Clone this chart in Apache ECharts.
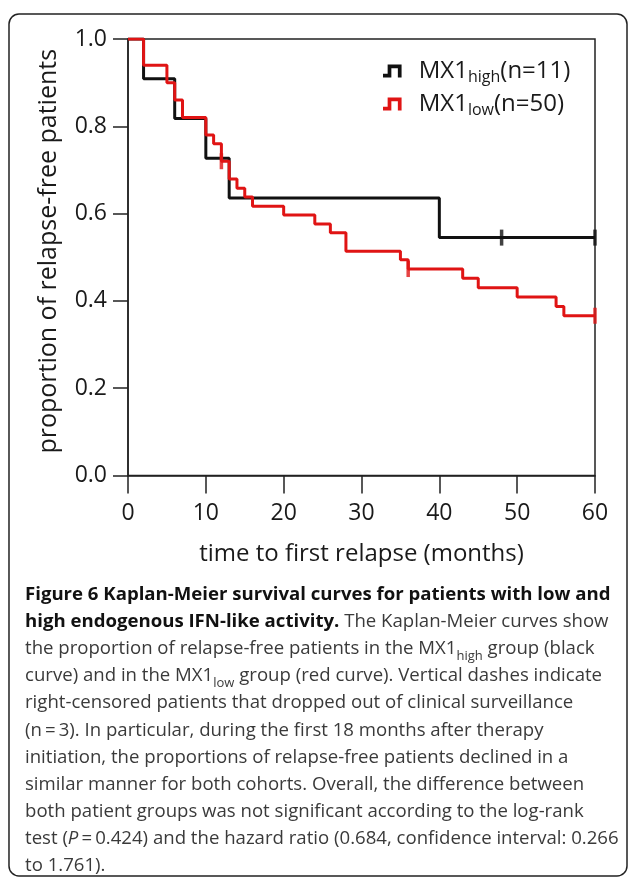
<!DOCTYPE html>
<html><head><meta charset="utf-8">
<script src="https://cdn.jsdelivr.net/npm/echarts@6/dist/echarts.min.js"></script>
<style>html,body{margin:0;padding:0;background:#fff}#c{width:629px;height:878px}</style>
</head><body><div id="c"></div>
<script>
// ---- data ----
const xTicks = [0, 10, 20, 30, 40, 50, 60];
const yTicks = [0.0, 0.2, 0.4, 0.6, 0.8, 1.0];

const highMonths = [0, 2, 6, 10, 13, 40, 60];
const highSurv   = [1.0, 0.909, 0.818, 0.727, 0.636, 0.545, 0.545];
const highCensorMonths = [48, 60];
const highCensorSurv   = [0.545, 0.545];

const lowMonths = [0, 2, 5, 6, 7, 10, 11, 12, 13, 14, 15, 16, 20, 24, 26, 28, 35, 36, 43, 45, 50, 55, 56, 60];
const lowSurv   = [1.0, 0.94, 0.90, 0.86, 0.82, 0.78, 0.76, 0.72, 0.679, 0.658, 0.638, 0.617, 0.597, 0.576, 0.556, 0.514, 0.494, 0.473, 0.452, 0.430, 0.409, 0.387, 0.366, 0.366];
const lowCensorMonths = [12, 36, 60];
const lowCensorSurv   = [0.72, 0.473, 0.366];

const seriesNames = ['MX1high', 'MX1low'];
const legendLabels = {MX1high: ['MX1', 'high', '(n=11)'], MX1low: ['MX1', 'low', '(n=50)']};

const captionLines = [
  [['bold', 'Figure 6 Kaplan-Meier survival curves for patients with low and']],
  [['bold', 'high endogenous IFN-like activity.'], ['reg', ' The Kaplan-Meier curves show']],
  [['reg', 'the proportion of relapse-free patients in the MX1'], ['sub', 'high'], ['reg', ' group (black']],
  [['reg', 'curve) and in the MX1'], ['sub', 'low'], ['reg', ' group (red curve). Vertical dashes indicate']],
  [['reg', 'right-censored patients that dropped out of clinical surveillance']],
  [['reg', '(n\u2009=\u20093). In particular, during the first 18 months after therapy']],
  [['reg', 'initiation, the proportions of relapse-free patients declined in a']],
  [['reg', 'similar manner for both cohorts. Overall, the difference between']],
  [['reg', 'both patient groups was not significant according to the log-rank']],
  [['reg', 'test ('], ['ital', 'P'], ['reg', '\u2009=\u20090.424) and the hazard ratio (0.684, confidence interval: 0.266']],
  [['reg', 'to 1.761).']]
];

// ---- build ----
const zip = (a, b) => a.map((v, i) => [v, b[i]]);
const FONT = '"Open Sans", "Noto Sans", sans-serif';
const BLACK = '#111111';
const RED = '#e01414';
const TXT = '#1a1a1a';
const iconPath = 'path://M0,14 L0,10 L5,10 L5,0 L20,0 L20,14 L16,14 L16,4 L9,4 L9,14 Z';

const esc = s => s.replace(/[{}|]/g, '');
const captionText = captionLines.map(line => line.map(([k, t]) => '{' + k + '|' + esc(t) + '}').join('')).join('\n');

const CAP = 18.6, CAPLH = 27.15;

const chart = echarts.init(document.getElementById('c'), null, {renderer: 'canvas'});
chart.setOption({
  animation: false,
  backgroundColor: '#fff',
  grid: {left: 128, right: 34, top: 39, bottom: 402.5, show: true, borderColor: '#222', borderWidth: 1.5, backgroundColor: 'transparent'},
  xAxis: {
    type: 'value', min: xTicks[0], max: xTicks[xTicks.length - 1], interval: 10,
    name: 'time to first relapse (months)', nameLocation: 'middle', nameGap: 67,
    nameTextStyle: {fontFamily: FONT, fontSize: 24, color: TXT},
    axisLine: {show: true, lineStyle: {color: '#222', width: 1.5}},
    axisTick: {show: true, inside: false, length: 18, lineStyle: {color: '#222', width: 1.5}},
    axisLabel: {fontFamily: FONT, fontSize: 23, color: TXT, margin: 26},
    splitLine: {show: false}
  },
  yAxis: {
    type: 'value', min: yTicks[0], max: yTicks[yTicks.length - 1], interval: 0.2,
    name: 'proportion of relapse-free patients', nameLocation: 'middle', nameGap: 67,
    nameTextStyle: {fontFamily: FONT, fontSize: 25, color: TXT, padding: [0, 0, 0, 12]},
    axisLine: {show: true, lineStyle: {color: '#222', width: 1.5}},
    axisTick: {show: true, inside: false, length: 15, lineStyle: {color: '#222', width: 1.5}},
    axisLabel: {fontFamily: FONT, fontSize: 23, color: TXT, margin: 21, formatter: v => v.toFixed(1)},
    splitLine: {show: false}
  },
  legend: {
    orient: 'vertical', left: 383, top: 59, padding: 0, itemWidth: 19, itemHeight: 13, itemGap: 7,
    data: [
      {name: seriesNames[0], icon: iconPath, itemStyle: {color: BLACK}},
      {name: seriesNames[1], icon: iconPath, itemStyle: {color: RED}}
    ],
    formatter: n => '{a|' + legendLabels[n][0] + '}{b|' + legendLabels[n][1] + '}{c|' + legendLabels[n][2] + '}',
    textStyle: {
      fontFamily: FONT, color: TXT,
      rich: {
        a: {fontFamily: FONT, fontSize: 24, color: TXT, lineHeight: 28, padding: [0, 0, 0, 12]},
        b: {fontFamily: FONT, fontSize: 16, color: TXT, lineHeight: 28, verticalAlign: 'bottom'},
        c: {fontFamily: FONT, fontSize: 24, color: TXT, lineHeight: 28}
      }
    }
  },
  series: [
    {name: seriesNames[0], type: 'line', step: 'end', data: zip(highMonths, highSurv), showSymbol: false,
     lineStyle: {color: BLACK, width: 3}, itemStyle: {color: BLACK}, z: 2},
    {name: seriesNames[1], type: 'line', step: 'end', data: zip(lowMonths, lowSurv), showSymbol: false,
     lineStyle: {color: RED, width: 3}, itemStyle: {color: RED}, z: 3},
    {name: 'highCensor', type: 'scatter', data: zip(highCensorMonths, highCensorSurv), symbol: 'rect', symbolSize: [3.5, 16],
     itemStyle: {color: BLACK}, z: 4},
    {name: 'lowCensor', type: 'scatter', data: zip(lowCensorMonths, lowCensorSurv), symbol: 'rect', symbolSize: [3.5, 16],
     itemStyle: {color: RED}, z: 5}
  ],
  graphic: [
    {type: 'rect', silent: true, shape: {x: 9, y: 14, width: 618, height: 862, r: 10},
     style: {fill: 'none', stroke: '#222', lineWidth: 1.5}},
    {type: 'text', silent: true, left: 25, top: 585,
     style: {
       text: captionText, fontFamily: FONT, fontSize: CAP, fill: '#3a3a3a',
       rich: {
         bold: {fontFamily: FONT, fontSize: CAP, fontWeight: 'bold', fill: '#111', lineHeight: CAPLH},
         reg: {fontFamily: FONT, fontSize: CAP, fill: '#3a3a3a', lineHeight: CAPLH},
         ital: {fontFamily: FONT, fontSize: CAP, fontStyle: 'italic', fill: '#3a3a3a', lineHeight: CAPLH},
         sub: {fontFamily: FONT, fontSize: 13, fill: '#3a3a3a', lineHeight: CAPLH, verticalAlign: 'bottom'}
       }
     }}
  ]
});
</script></body></html>
